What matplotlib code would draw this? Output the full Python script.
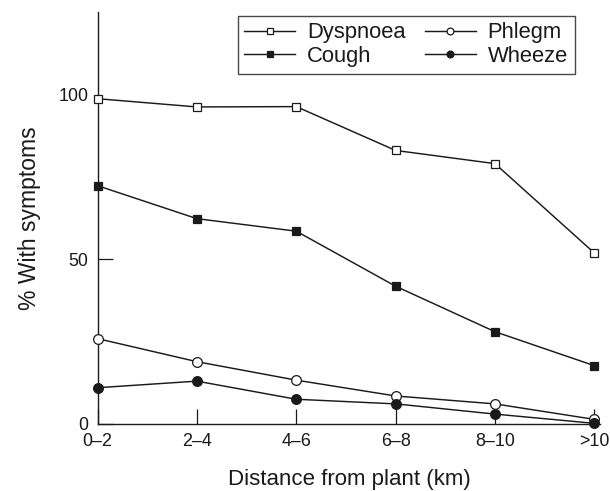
import matplotlib
matplotlib.use("Agg")
import matplotlib.pyplot as plt

plt.rcParams['font.family'] = ['Liberation Sans', 'DejaVu Sans']

categories = ["0–2", "2–4", "4–6", "6–8", "8–10", ">10"]
dyspnoea = [98.7, 96.2, 96.3, 83.0, 79.0, 51.9]
cough = [72.3, 62.3, 58.5, 41.8, 28.0, 17.7]
phlegm = [25.9, 18.9, 13.3, 8.5, 6.1, 1.4]
wheeze = [11.0, 13.0, 7.5, 6.1, 3.0, 0.2]
yticks = [0, 50, 100]

fig = plt.figure(figsize=(6.1, 4.91), dpi=100)
ax = fig.add_axes([0.160, 0.1365, 0.824, 0.839])

x = list(range(len(categories)))
c = '#1a1a1a'
common = dict(color=c, lw=1.05, clip_on=False, zorder=3)
ax.plot(x, dyspnoea, marker='s', ms=6, mfc='white', mec=c, mew=0.9, label='Dyspnoea', **common)
ax.plot(x, cough, marker='s', ms=6, mfc=c, mec=c, mew=0.9, label='Cough', **common)
ax.plot(x, phlegm, marker='o', ms=7, mfc='white', mec=c, mew=0.9, label='Phlegm', **common)
ax.plot(x, wheeze, marker='o', ms=7, mfc=c, mec=c, mew=0.9, label='Wheeze', **common)

ax.set_xlim(0, 5.06)
ax.set_ylim(0, 125)
ax.set_xticks(x)
ax.set_xticklabels(categories)
ax.set_yticks(yticks)
ax.tick_params(direction='in', length=11, width=0.9, color=c, labelsize=12.9, pad=6.5, labelcolor=c)
ax.yaxis.get_major_ticks()[2].tick1line.set_visible(False)
for s in ['top', 'right']:
    ax.spines[s].set_visible(False)
for s in ['left', 'bottom']:
    ax.spines[s].set_linewidth(1.0)
    ax.spines[s].set_color(c)

ax.set_xlabel('Distance from plant (km)', fontsize=16, color=c, labelpad=14)
ax.set_ylabel('% With symptoms', fontsize=16.5, color=c, labelpad=13)

leg = ax.legend(ncol=2, loc='upper left', bbox_to_anchor=(237.7 / 610, 1 - 15.7 / 491),
                bbox_transform=fig.transFigure, fontsize=15.8,
                handlelength=2.3, handletextpad=0.55, columnspacing=0.9,
                labelspacing=0.12, borderpad=0.3, markerscale=0.7,
                frameon=True, fancybox=False, borderaxespad=0)
leg.get_frame().set_edgecolor(c)
leg.get_frame().set_linewidth(1.0)
for t in leg.get_texts():
    t.set_color(c)

fig.savefig('out.png', dpi=100)
